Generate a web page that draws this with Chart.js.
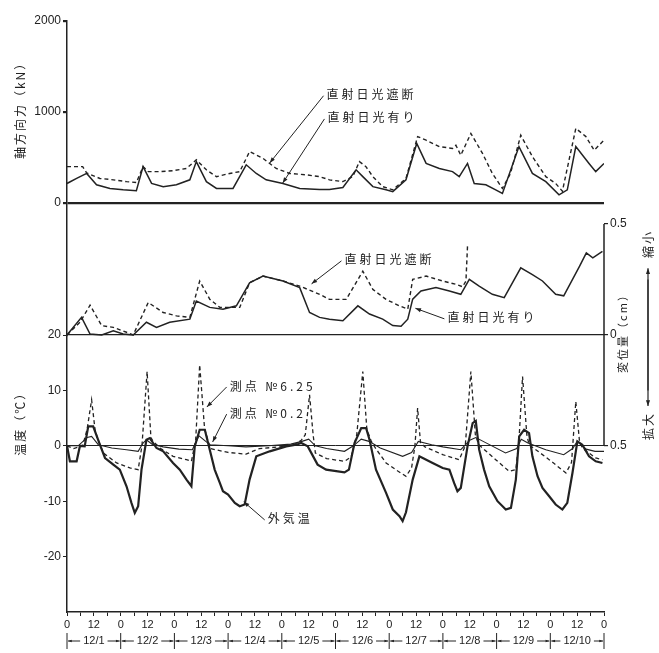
<!DOCTYPE html>
<html>
<head>
<meta charset="utf-8">
<script src="https://cdn.jsdelivr.net/npm/chart.js@4.4.1/dist/chart.umd.min.js"></script>
<style>
  html, body { margin: 0; padding: 0; background: #fff; }
</style>
</head>
<body>
<canvas id="chart" width="659" height="653"></canvas>
<script>
// ---- data: [hour from 12/1 0:00, value] ----

// axial force (kN)
const forceShaded = [[0,400],[7,400],[8.8,330],[14.7,270],[20.7,255],[26.6,235],[31,225],[34,400],[36.3,345],[41.5,345],[47.4,355],[53.4,380],[57.8,475],[62.3,365],[66.8,290],[72.7,325],[77.2,345],[81.6,565],[87.6,490],[93.5,380],[99.5,325],[106.9,310],[112.9,290],[117.3,255],[123.3,235],[127.7,290],[130.7,455],[133.6,400],[136.7,290],[141.1,180],[145.6,145],[151.5,270],[156.7,730],[160.5,690],[166.4,620],[172.3,600],[173.8,635],[176,525],[180.5,765],[185.7,545],[190.1,325],[194.6,160],[198.2,325],[202.8,745],[208,510],[214,290],[218.4,215],[221.4,130],[227.4,820],[231.9,730],[235.6,580],[240,690]];
const forceSun = [[0,215],[4.3,270],[8.8,325],[13.2,200],[19.2,160],[25.1,145],[31,135],[34,400],[37.8,215],[43,180],[48.9,200],[54.9,255],[57.8,455],[62.3,235],[66.8,160],[74.2,160],[80.1,420],[84.6,325],[89,255],[96.5,215],[104,160],[112.9,150],[117.3,150],[123.3,170],[129.2,365],[132.2,290],[136.7,180],[142.6,145],[145.6,125],[151.5,255],[156.3,655],[160.5,435],[166.4,380],[172.3,345],[175.3,290],[179,435],[182,215],[187.2,200],[191.6,145],[194.6,105],[202,620],[208,325],[214,235],[219.9,90],[223.6,145],[227.4,620],[233.3,435],[236.3,345],[240,435]];

// displacement (cm), + = shrink
const dispShaded = [[0,0],[5.8,0.057],[10.3,0.134],[15.5,0.042],[20.7,0.034],[26.6,0.012],[29.6,0],[36.3,0.146],[43,0.101],[48.9,0.086],[54.9,0.079],[59.3,0.243],[63.8,0.161],[68.3,0.124],[77.2,0.124],[81.6,0.235],[87.6,0.265],[96.5,0.243],[104,0.22],[112.9,0.183],[117.3,0.16],[124.8,0.16],[132.2,0.287],[136.7,0.205],[142.6,0.16],[148.6,0.131],[152.3,0.116],[154.5,0.25],[160.5,0.265],[167.9,0.243],[173.8,0.228],[176.8,0.217],[178.3,0.243],[179,0.40]];
const dispSun = [[0,0],[6.5,0.079],[10.3,0.004],[15.5,0],[20.7,0.019],[25.1,0.004],[29.6,0],[35.5,0.057],[40,0.034],[45.9,0.057],[54.9,0.071],[57.8,0.153],[63.8,0.124],[69.7,0.116],[75.7,0.131],[81.6,0.235],[87.6,0.265],[96.5,0.243],[104,0.213],[108.4,0.101],[112.9,0.079],[117.3,0.071],[123.3,0.064],[130,0.131],[135.2,0.094],[141.1,0.071],[145.6,0.042],[149.3,0.039],[152.3,0.071],[154.5,0.161],[158.2,0.198],[164.9,0.213],[170.9,0.198],[176,0.183],[179.8,0.25],[184.2,0.22],[190.1,0.183],[195.4,0.168],[202.8,0.302],[208,0.272],[212.5,0.243],[218.4,0.183],[222,0.176],[229.1,0.31],[232.1,0.369],[235,0.347],[239.3,0.376]];

// temperature (deg C)
const tempOutside = [[0,0],[1.3,-2.8],[4.3,-2.8],[5.8,0],[7.9,-0.1],[9.5,3.5],[11.7,3.5],[14.7,0.2],[17,-2.2],[20.7,-3.4],[23.6,-4.3],[26.6,-7.3],[28.8,-10.3],[30.3,-12.1],[31.8,-10.9],[33.3,-4.3],[35.5,1.1],[37,1.4],[40,-0.4],[43,-1],[47.4,-3.1],[50.4,-4.3],[53.4,-6.1],[55.6,-7.3],[57.1,-0.1],[59.3,2.9],[61.6,2.9],[63.8,-0.7],[66,-4.3],[68.3,-6.7],[69.7,-8.2],[72,-8.8],[75,-10.3],[77.2,-10.9],[79.4,-10.6],[81.6,-6.1],[84.6,-1.9],[90.6,-1],[98,-0.1],[102.4,0.2],[104.7,0.5],[107.6,-0.1],[112,-3.4],[115.8,-4.3],[124,-4.8],[126,-4.3],[128.5,0.5],[131.5,3.2],[133.7,3.2],[135.2,1.1],[138.1,-4.3],[142.6,-8.5],[145.6,-11.5],[148.6,-12.7],[150,-13.6],[151.5,-12],[154.5,-6.1],[157.5,-1.9],[159,-2.2],[163.4,-3.1],[167.9,-4],[170.9,-4.3],[173,-6.7],[174.5,-8.2],[176,-7.6],[179,-0.1],[181.3,4.1],[182.7,4.5],[184.2,-0.7],[186.4,-4.3],[188.7,-7.3],[192.4,-10],[196.1,-11.5],[198.4,-11.2],[200.6,-6.1],[202.1,1.7],[204.3,2.9],[206.5,2.3],[208,-1.9],[210.3,-5.5],[212.5,-7.6],[215.5,-9.1],[218.4,-10.6],[221.4,-11.5],[223.6,-10.3],[225.9,-4.9],[228.1,0.8],[230.3,0.2],[233.3,-1.9],[236.3,-2.8],[239.3,-3.1]];
const tempPoint625 = [[0,0],[3,-0.5],[7,0],[9,3],[11,8.3],[12.5,3],[13.5,1.5],[16.2,-1.3],[22.2,-3.1],[28.1,-4],[31.8,-4.3],[33.5,0],[35.8,13.4],[37.5,1.5],[38.5,0.8],[41.5,-0.4],[47.4,-1.9],[53.4,-2.5],[55.6,-2.8],[57.5,1],[59.3,14.6],[61.5,3],[62.3,2],[64,-0.5],[72,-1.2],[80,-1.5],[86,-0.5],[95,-0.2],[102,0.3],[104.7,1],[106.5,2],[108.4,9.2],[110,2],[111,-1.3],[116,-2.3],[124,-2.8],[127,-2],[129.5,2],[132.2,13.4],[134,3],[136,0.8],[138,-0.5],[142.6,-3.1],[148,-4.6],[151.5,-5.5],[154,-4],[155.5,0],[156.7,6.8],[158,0.5],[160,-0.2],[167.9,-1.6],[175.3,-2.5],[178,0],[180.5,13.4],[182.5,2],[184,0.2],[191.6,-2.5],[197.6,-4.6],[200.6,-4.3],[202,1],[203.6,12.5],[205.5,2],[206.5,0.2],[215.5,-2.5],[223,-4.9],[225.5,-3],[227.4,8],[229,1],[230.3,-0.4],[236.3,-2.2],[239.3,-2.5]];
const tempPoint02 = [[0,0],[5,0],[9,1.5],[11,1.7],[14,0.2],[20,-0.4],[26.6,-0.7],[31.8,-1],[34,0.5],[35.5,1.1],[38,0.3],[43,-0.2],[50,-0.6],[56,-0.7],[59,1.8],[62,0.8],[64,0.2],[72,0],[80,-0.2],[90,0],[100,0.3],[105,0.8],[108,1.2],[111,0],[116,-0.5],[124,-1],[128,0],[131.5,1.2],[135,0.8],[140,-0.4],[150,-1.9],[154,-1.2],[157,0.8],[163,0.2],[168,-0.2],[176,-0.7],[180,1],[182.7,1.5],[186,0.8],[196,-1.3],[201,-0.5],[203,1.2],[206,0.5],[214,-0.7],[222,-1.6],[226,-0.5],[228,0.8],[232,-0.6],[236,-1],[240,-1]];

// ticks and labels
const forceTicks = [0, 1000, 2000];
const tempTicks = [-20, -10, 0, 10, 20];
const dispTicks = [-0.5, 0, 0.5];
const dateLabels = ['12/1','12/2','12/3','12/4','12/5','12/6','12/7','12/8','12/9','12/10'];

// callouts: text, axis, text anchor [h, v], arrow tip [h, v]
const callouts = [
  ['直射日光遮断', 'yLoad', 116, 1190, 90.6, 440],
  ['直射日光有り', 'yLoad', 116.4, 935, 96.4, 220],
  ['直射日光遮断', 'yDisp', 124, 0.338, 109.3, 0.23],
  ['直射日光有り', 'yDisp', 170, 0.077, 155.7, 0.12],
  ['測点 №6.25', 'yTemp', 72.7, 10.8, 62.5, 7.0],
  ['測点 №0.2', 'yTemp', 72.7, 5.9, 65.1, 0.7],
  ['外気温', 'yTemp', 89.7, -13.2, 79, -10.1]
];

const ink = '#222';
const numFont = { family: 'Liberation Sans', size: 12 };
const jpFont = '"Noto Sans CJK JP"';

function arrow(ctx, x1, y1, x2, y2, head) {
  ctx.beginPath();
  ctx.moveTo(x1, y1);
  ctx.lineTo(x2, y2);
  ctx.stroke();
  if (!head) return;
  const a = Math.atan2(y2 - y1, x2 - x1);
  ctx.beginPath();
  ctx.moveTo(x2, y2);
  ctx.lineTo(x2 - head * Math.cos(a - 0.35), y2 - head * Math.sin(a - 0.35));
  ctx.lineTo(x2 - head * Math.cos(a + 0.35), y2 - head * Math.sin(a + 0.35));
  ctx.closePath();
  ctx.fill();
}

function vtext(ctx, text, x, y, size) {
  ctx.save();
  ctx.translate(x, y);
  ctx.rotate(-Math.PI / 2);
  ctx.font = size + 'px ' + jpFont;
  ctx.letterSpacing = '2px';
  ctx.textAlign = 'center';
  ctx.textBaseline = 'middle';
  ctx.fillText(text, 0, 0);
  ctx.restore();
}

const overlay = {
  id: 'overlay',
  afterDraw(chart) {
    const { ctx, chartArea: area, scales } = chart;
    const xs = scales.x, yd = scales.yDisp;
    ctx.save();
    ctx.strokeStyle = ink;
    ctx.fillStyle = ink;

    // right axis segment (displacement)
    ctx.lineWidth = 1.5;
    arrow(ctx, area.right, yd.getPixelForValue(0.5), area.right, yd.getPixelForValue(-0.5));

    // axis titles
    vtext(ctx, '軸方向力（kN）', 20, scales.yLoad.getPixelForValue(1050), 12);
    vtext(ctx, '温度（℃）', 20, scales.yTemp.getPixelForValue(4.5), 12);
    vtext(ctx, '変位量（cm）', area.right + 19, yd.getPixelForValue(0.02), 11);
    vtext(ctx, '縮小', area.right + 44, yd.getPixelForValue(0.41), 12);
    vtext(ctx, '拡大', area.right + 44, yd.getPixelForValue(-0.41), 12);
    ctx.lineWidth = 1.2;
    arrow(ctx, area.right + 44, yd.getPixelForValue(-0.25), area.right + 44, yd.getPixelForValue(0.3), 6);
    arrow(ctx, area.right + 44, yd.getPixelForValue(0.25), area.right + 44, yd.getPixelForValue(-0.32), 6);

    // callouts
    ctx.lineWidth = 1;
    for (const [text, axis, th, tv, ah, av] of callouts) {
      const ys = scales[axis];
      const tx = xs.getPixelForValue(th), ty = ys.getPixelForValue(tv);
      ctx.font = '12px ' + jpFont;
      ctx.letterSpacing = '3px';
      ctx.textAlign = 'left';
      ctx.textBaseline = 'middle';
      ctx.fillText(text, tx, ty);
      arrow(ctx, tx - 3, ty + 1, xs.getPixelForValue(ah), ys.getPixelForValue(av), 6);
    }
    ctx.letterSpacing = '0px';

    // date row below the hour axis
    const rowY = area.bottom + 29;
    ctx.font = '11px "Liberation Sans"';
    ctx.textAlign = 'center';
    ctx.textBaseline = 'middle';
    ctx.lineWidth = 1;
    dateLabels.forEach((lab, d) => {
      const x0 = xs.getPixelForValue(d * 24), x1 = xs.getPixelForValue(d * 24 + 24);
      const xm = xs.getPixelForValue(d * 24 + 12);
      const w = ctx.measureText(lab).width / 2 + 3;
      ctx.fillText(lab, xm, rowY);
      arrow(ctx, xm - w, rowY, x0 + 1, rowY, 4);
      arrow(ctx, xm + w, rowY, x1 - 1, rowY, 4);
      arrow(ctx, x0, rowY - 8, x0, rowY + 8);
    });
    arrow(ctx, area.right, rowY - 8, area.right, rowY + 8);
    ctx.restore();
  }
};

const zeroLine = (w) => ({
  color: c => (c.tick && c.tick.value === 0 ? ink : 'rgba(0,0,0,0)'),
  lineWidth: w,
  tickColor: ink,
  tickLength: 4
});

function series(data, axis, dash, width) {
  return {
    data, yAxisID: axis, borderColor: ink, borderWidth: width,
    borderDash: dash ? [4, 3] : [], pointRadius: 0, tension: 0, fill: false
  };
}

new Chart(document.getElementById('chart'), {
  type: 'line',
  data: {
    datasets: [
      series(forceShaded, 'yLoad', true, 1.4),
      series(forceSun, 'yLoad', false, 1.5),
      series(dispShaded, 'yDisp', true, 1.4),
      series(dispSun, 'yDisp', false, 1.5),
      series(tempPoint02, 'yTemp', false, 1.1),
      series(tempPoint625, 'yTemp', true, 1.3),
      series(tempOutside, 'yTemp', false, 2.2)
    ]
  },
  options: {
    responsive: false,
    animation: false,
    devicePixelRatio: 1,
    layout: { padding: { top: 21, left: 0, right: 0, bottom: 0 } },
    plugins: { legend: { display: false }, tooltip: { enabled: false } },
    scales: {
      x: {
        type: 'linear', min: 0, max: 240,
        ticks: {
          stepSize: 6, autoSkip: false, maxRotation: 0, padding: 2, color: ink,
          font: { family: 'Liberation Sans', size: 11 },
          callback: v => (v % 24 === 0 ? '0' : v % 24 === 12 ? '12' : '')
        },
        grid: { drawOnChartArea: false, color: ink, tickLength: 4 },
        border: { color: ink, width: 1.5 },
        afterFit: s => { s.height = 41; }
      },
      // stacked left axes: listed bottom part first so the force panel lands on top
      yTemp: {
        type: 'linear', position: 'left', stack: 'left', stackWeight: 277,
        min: -30, max: 20,
        afterBuildTicks: s => { s.ticks = tempTicks.map(v => ({ value: v })); },
        ticks: { color: ink, font: numFont, padding: 2, callback: v => String(v) },
        grid: zeroLine(1),
        border: { color: ink, width: 1.5 },
        afterFit: s => { s.width = 67; }
      },
      yLoad: {
        type: 'linear', position: 'left', stack: 'left', stackWeight: 314,
        min: -1450, max: 2000,
        afterBuildTicks: s => { s.ticks = forceTicks.map(v => ({ value: v })); },
        ticks: { color: ink, font: numFont, padding: 2, callback: v => String(v) },
        grid: zeroLine(2.2),
        border: { color: ink, width: 1.5 },
        afterFit: s => { s.width = 67; }
      },
      yDisp: {
        type: 'linear', position: 'right',
        min: -1.248, max: 1.414,
        afterBuildTicks: s => { s.ticks = dispTicks.map(v => ({ value: v })); },
        ticks: { color: ink, font: numFont, padding: 2, callback: v => String(Math.abs(v)) },
        grid: zeroLine(1.2),
        border: { display: false },
        afterFit: s => { s.width = 55; }
      }
    }
  },
  plugins: [overlay]
});
</script>
</body>
</html>
